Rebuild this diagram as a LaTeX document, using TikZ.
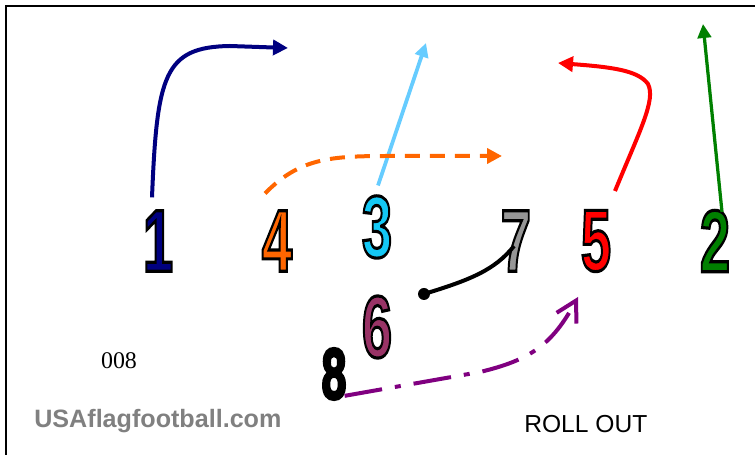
\documentclass[tikz,border=0pt]{standalone}
\usepackage{fontspec}
\setmainfont{Liberation Sans}
\newfontfamily\playserif{Liberation Serif}
\usepackage{xcolor}
\usetikzlibrary{arrows.meta,positioning}
\definecolor{qbnavy}  {RGB}{0,  0,128}
\definecolor{qborange}{RGB}{255,102,0}
\definecolor{qbcyan}  {RGB}{20,200,245}
\definecolor{qbsky}   {RGB}{102,204,255}
\definecolor{qbgray}  {RGB}{150,150,150}
\definecolor{qbred}   {RGB}{255,0,  0}
\definecolor{qbgreen} {RGB}{0,128,  0}
\definecolor{qbplum}  {RGB}{153,51,102}
\definecolor{qbpurple}{RGB}{128,0,128}
\definecolor{qblogo}  {RGB}{128,128,128}
\newcommand\bignum{\fontsize{50}{50}\selectfont\bfseries}
\newcommand\midnum{\fontsize{41}{41}\selectfont\bfseries}
\newcommand\outlined[1]{\special{pdf:literal direct 2 Tr 1.8 w 0 0 0 RG}#1\special{pdf:literal direct 0 Tr}}
\tikzset{
  player/.style={inner sep=0pt,xscale=0.62,font=\bignum},
  route/.style={line width=0.08cm,-{Triangle[length=0.3cm,width=0.3cm]}},
  routethin/.style={route,line width=0.065cm,-{Triangle[length=0.28cm,width=0.27cm]}},
  block/.style={circle,fill=black,inner sep=0pt,minimum size=0.24cm},
}

\begin{document}
\begin{tikzpicture}[x=0.02cm,y=-0.02cm]
  \useasboundingbox (0,0) rectangle (755,455);
  \draw[line width=0.04cm] (6,455) -- (6,6) -- (755,6);

  \node[player,text=qbnavy]  (p1) at (158,241) {\outlined{1}};
  \node[player,text=qborange](p4) at (277,241) {\outlined{4}};
  \node[player,text=qbcyan]  (p3) at (377,227) {\outlined{3}};
  \node[player,text=qbgray]  (p7) at (516,241) {\outlined{7}};
  \node[player,text=qbred]   (p5) at (596,241) {\outlined{5}};
  \node[player,text=qbgreen] (p2) at (715,241) {\outlined{2}};
  \node[player,text=qbplum]  (p6) at (377,327) {\outlined{6}};
  \node[player,font=\midnum] (p8) at (334,374) {\outlined{8}};
  \node[block] (hand) at (424,294) {};

  \coordinate (e1) at (288,48);
  \coordinate (e3) at (426,43);
  \coordinate (e4) at (502,156);
  \coordinate (e5) at (558,63);
  \coordinate (e2) at (703,24);
  \coordinate (e8) at (578,297);

  \draw[route,qbnavy] ([shift={(-6,-13)}]p1.north) .. controls (157,75) and (164,47) .. (230,46) -- (e1);
  \draw[routethin,qbsky,line width=0.075cm] ([shift={(1,-10)}]p3.north) -- (e3);
  \draw[route,qborange,dash pattern=on 0.3cm off 0.2cm] ([shift={(-12,-17)}]p4.north) .. controls (300,158) and (330,156) .. (390,156) -- (e4);
  \draw[route,qbred] ([shift={(19,-19)}]p5.north) .. controls (640,130) and (656,100) .. (648,84) .. controls (638,70) and (610,67) .. (e5);
  \draw[routethin,qbgreen] ([shift={(7,2)}]p2.north) -- (e2);
  \draw[line width=0.08cm] (hand.center) .. controls (470,280) and (495,270) .. ([shift={(-2,5)}]p7.center);
  \draw[route,qbpurple,dash pattern=on 0.76cm off 0.26cm on 0.12cm off 0.26cm,
        -{Straight Barb[length=0.4cm,width=0.45cm]}]
        ([shift={(-2,-4)}]p8.south east) -- (480,372) .. controls (530,360) and (552,345) .. (e8);

  \node[font=\playserif\fontsize{13.6}{14}\selectfont] (code) at (119,361) {008};
  \node[font=\fontsize{14.3}{15}\selectfont\bfseries,text=qblogo,anchor=base west,inner sep=0pt] (logo) at (34,428) {USAflagfootball.com};
  \node[font=\fontsize{14}{15}\selectfont,anchor=base west,inner sep=0pt] (play) at (524,433) {ROLL OUT};
\end{tikzpicture}
\end{document}
